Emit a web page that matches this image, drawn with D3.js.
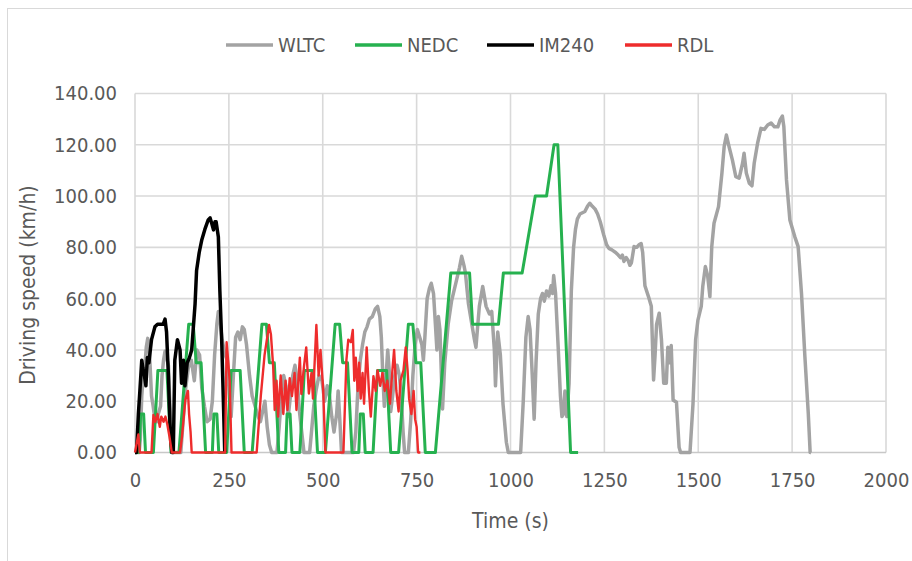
<!DOCTYPE html>
<html>
<head>
<meta charset="utf-8">
<script src="https://cdn.jsdelivr.net/npm/d3@7"></script>
<style>
  html, body { margin: 0; padding: 0; background: #fff; }
  svg text { font-family: "Liberation Sans Narrow", "DejaVu Sans Condensed", "Open Sans", sans-serif; fill: #595959; }
</style>
</head>
<body>
<div id="chart"></div>
<script>
// --- data: [time (s), speed (km/h)] ---
const seriesNames = ["WLTC", "NEDC", "IM240", "RDL"];
const seriesColors = ["#a3a3a3", "#26b14f", "#000000", "#ee2c2c"];
const seriesWidths = [3.5, 3, 3.5, 2.4];

const xTicks = [0, 250, 500, 750, 1000, 1250, 1500, 1750, 2000];
const yTicks = [0, 20, 40, 60, 80, 100, 120, 140];

const wltc = [
  [0,0],[11,0],[14,5],[18,22],[21,28],[25,31],[30,41],[34,44.5],[37,42.7],[40,34.6],[44,22],[48,18.4],
  [53,13],[58,12],[62,15],[68,18],[72,30],[76,36],[80,39.5],[84,37],[89,34],[92,22],[96,9],[100,0],
  [122,0],[128,12],[135,25],[142,33],[150,36],[158,28],[165,40],[172,38],[178,25],[185,18],[192,12],
  [200,13],[206,20],[212,38],[218,50],[222,55],[226,52],[232,44],[240,38],[246,36],[252,20],[256,14],
  [262,30],[268,45],[274,47],[280,44],[286,49],[291,48],[297,42],[305,30],[312,22],[320,18],[328,14],
  [334,12],[340,16],[346,20],[352,10],[358,3],[364,0],[378,0],[384,10],[390,22],[396,30],[402,26],
  [408,14],[414,22],[420,30],[426,34],[432,28],[438,16],[444,8],[450,0],[465,0],[470,8],[476,18],
  [482,24],[490,30],[498,28],[505,20],[512,26],[518,22],[524,14],[530,8],[537,15],[541,24],[545,14],
  [550,0],[582,0],[588,8],[594,26],[600,36],[606,42],[612,47],[618,49],[624,52],[632,53],[640,56],
  [646,57],[652,53],[656,45],[660,30],[664,18],[668,28],[673,40],[677,32],[681,16],[686,22],[692,30],
  [698,34],[704,30],[709,22],[714,8],[718,0],[728,0],[734,12],[740,30],[746,42],[752,48],[758,45],
  [764,42],[768,36],[772,45],[778,60],[784,64],[789,66],[795,62],[800,50],[804,40],[808,53],[812,48],
  [816,30],[819,17],[825,35],[834,50],[843,59],[856,67],[864,72],[870,76.5],[876,73],[880,70],[888,58],
  [897,50],[904,44],[908,41],[913,50],[917,57],[926,64.7],[935,57],[944,54],[950,55],[957,40],[960,26],
  [966,47],[973,38],[980,19],[989,4],[994,0],[1027,0],[1034,20],[1041,45],[1047,53],[1052,48],[1058,30],
  [1063,13],[1068,35],[1074,54],[1080,60],[1085,62],[1090,59],[1096,63],[1102,61],[1108,65],[1112,62],
  [1115,69],[1120,62],[1127,41],[1133,22],[1137,14],[1141,15],[1145,24],[1150,14],[1156,27],[1162,63],
  [1168,80],[1173,87],[1178,91],[1185,93],[1198,94],[1205,96],[1211,97.2],[1218,96],[1225,95],[1232,93],
  [1239,90],[1248,85],[1256,81],[1262,79.6],[1270,79],[1280,78],[1287,77],[1293,76],[1298,77],[1302,74.5],
  [1308,76],[1313,75],[1318,73],[1322,74],[1329,80.3],[1336,80],[1342,81],[1348,81.5],[1352,78],[1358,65],
  [1367,61],[1375,57],[1381,28.3],[1385,38],[1389,50],[1396,54.3],[1402,44],[1408,27],[1415,27],[1419,41],
  [1424,35],[1428,41.7],[1433,20.5],[1442,19.6],[1449,2],[1453,0],[1478,0],[1486,19],[1493,44],[1499,51.5],
  [1508,57],[1512,64.7],[1519,72.5],[1525,69],[1531,60.8],[1536,80.3],[1542,89.4],[1554,95.9],[1563,108.9],
  [1569,119.3],[1575,123.8],[1582,119.3],[1591,114],[1600,107.6],[1609,107],[1618,112.8],[1622,116.7],
  [1628,109],[1636,105],[1643,104],[1649,112.8],[1658,120.6],[1667,126.4],[1676,126],[1685,127.7],
  [1694,128.5],[1703,127],[1712,127],[1718,129.7],[1724,131.2],[1728,127],[1735,106.3],[1744,90.7],
  [1757,84.2],[1766,80.3],[1775,62],[1784,37.4],[1793,15.3],[1798,0],[1800,0]
];

const nedc = [
  [0,0],[11,0],[15,15],[23,15],[28,0],[49,0],[61,32],[85,32],[96,0],[117,0],[143,50],[155,50],[163,35],[176,35],[188,0],
  [206,0],[210,15],[218,15],[223,0],[244,0],[256,32],[280,32],[291,0],[312,0],[338,50],[350,50],[358,35],[371,35],[383,0],
  [401,0],[405,15],[413,15],[418,0],[439,0],[451,32],[475,32],[486,0],[507,0],[533,50],[545,50],[553,35],[566,35],[578,0],
  [596,0],[600,15],[608,15],[613,0],[634,0],[646,32],[670,32],[681,0],[702,0],[728,50],[740,50],[748,35],[761,35],[773,0],
  [800,0],[841,70],[891,70],[899,50],[968,50],[981,70],[1031,70],[1066,100],[1096,100],[1116,120],[1126,120],[1160,0],[1180,0]
];

const im240 = [
  [0,0],[4,0],[9,15],[13,24],[18,36],[21,33],[25,30],[29,26],[33,37],[37,35],[44,44],[53,49],[60,50],[67,50],
  [75,50],[80,52],[84,47],[89,30],[93,11.5],[98,0],[102,0],[106,36],[113,44],[120,40],[124,27],[129,36],
  [133,26],[139,35],[145,37],[151,40],[160,58],[164,71],[171,78],[178,83],[186,87],[195,90.7],[200,91.5],
  [205,89],[209,86.8],[213,90],[216,90],[222,84],[226,63],[231,43],[236,16.6],[239,0]
];

const rdl = [
  [0,0],[5,4],[9,7],[13,0],[44,0],[49,14.6],[54,12],[60,15],[66,10],[70,14],[76,12],[81,14],[86,11],[92,6],
  [98,0],[120,0],[125,6],[134,20.5],[141,24],[144,15],[148,8],[151,0],[240,0],[244,43],[248,36],[252,28],
  [257,0],[324,0],[335,22],[345,38],[357,49.7],[362,46],[368,33.5],[372,16.6],[377,28],[381,14],[388,30],
  [395,15],[401,28],[406,16.6],[412,29],[418,22],[425,31],[430,16.6],[439,37],[443,22.8],[450,33.5],[456,41],
  [463,23],[470,31],[474,21],[483,49.7],[489,30],[494,40],[501,25],[507,0],[555,0],[563,36],[568,44],[575,43],
  [580,47.8],[584,28],[588,37],[593,24],[597,35],[601,21],[606,31],[610,19],[617,41],[623,24],[628,14],
  [635,29.8],[641,24],[646,32],[653,26],[659,31],[665,24],[672,28],[679,19],[686,33],[690,40],[696,24],
  [702,16],[707,28],[715,32],[721,41],[726,32],[730,21],[736,15],[742,24],[746,13],[750,10],[754,0],[760,0]
];

const seriesData = [wltc, nedc, im240, rdl];

// --- canvas ---
const width = 912, height = 561;
const svg = d3.select("#chart").append("svg")
    .attr("width", width)
    .attr("height", height);

// outer chart frame
svg.append("rect")
    .attr("x", 7.5).attr("y", 8.5)
    .attr("width", 940).attr("height", 600)
    .attr("fill", "none")
    .attr("stroke", "#d9d9d9")
    .attr("stroke-width", 1);

const x = d3.scaleLinear().domain([0, 2000]).range([135, 886]);
const y = d3.scaleLinear().domain([0, 140]).range([452.5, 93.5]);

// gridlines
svg.append("g").selectAll("line.vgrid")
    .data(xTicks)
    .enter().append("line")
    .attr("x1", d => x(d)).attr("x2", d => x(d))
    .attr("y1", y(0)).attr("y2", y(140))
    .attr("stroke", "#d9d9d9").attr("stroke-width", 1.6);

svg.append("g").selectAll("line.hgrid")
    .data(yTicks)
    .enter().append("line")
    .attr("x1", x(0)).attr("x2", x(2000))
    .attr("y1", d => y(d)).attr("y2", d => y(d))
    .attr("stroke", d => d === 0 ? "#c8c8c8" : "#d9d9d9").attr("stroke-width", 1.6);

// axes (labels only)
const xAxis = svg.append("g")
    .attr("transform", `translate(0, ${y(0)})`)
    .call(d3.axisBottom(x).tickValues(xTicks).tickSize(0).tickPadding(20).tickFormat(d3.format("d")));
xAxis.select(".domain").remove();
xAxis.selectAll("text").attr("font-size", 20).attr("fill", "#595959");

const yAxis = svg.append("g")
    .attr("transform", `translate(${x(0)}, 0)`)
    .call(d3.axisLeft(y).tickValues(yTicks).tickSize(0).tickPadding(18).tickFormat(d3.format(".2f")));
yAxis.select(".domain").remove();
yAxis.selectAll("text").attr("font-size", 20).attr("fill", "#595959");

// axis titles
svg.append("text")
    .attr("x", x(1000)).attr("y", 528)
    .attr("text-anchor", "middle")
    .attr("font-size", 21)
    .text("Time (s)");

svg.append("text")
    .attr("transform", `translate(35, ${(y(0) + y(140)) / 2 + 12}) rotate(-90)`)
    .attr("text-anchor", "middle")
    .attr("font-size", 21)
    .text("Driving speed (km/h)");

// lines
const line = d3.line()
    .x(d => x(d[0]))
    .y(d => y(d[1]));

svg.append("g").selectAll("path.series")
    .data(seriesData)
    .enter().append("path")
    .attr("class", "series")
    .attr("d", line)
    .attr("fill", "none")
    .attr("stroke", (d, i) => seriesColors[i])
    .attr("stroke-width", (d, i) => seriesWidths[i])
    .attr("stroke-linejoin", "round");

// legend
const legendX = [226, 355, 487, 625];
const legend = svg.append("g").selectAll("g.legend-item")
    .data(seriesNames)
    .enter().append("g")
    .attr("transform", (d, i) => `translate(${legendX[i]}, 45)`);

legend.append("line")
    .attr("x1", 0).attr("x2", 47)
    .attr("stroke", (d, i) => seriesColors[i])
    .attr("stroke-width", 3.5);

legend.append("text")
    .attr("x", 52).attr("y", 7)
    .attr("font-size", 20)
    .text(d => d);
</script>
</body>
</html>
